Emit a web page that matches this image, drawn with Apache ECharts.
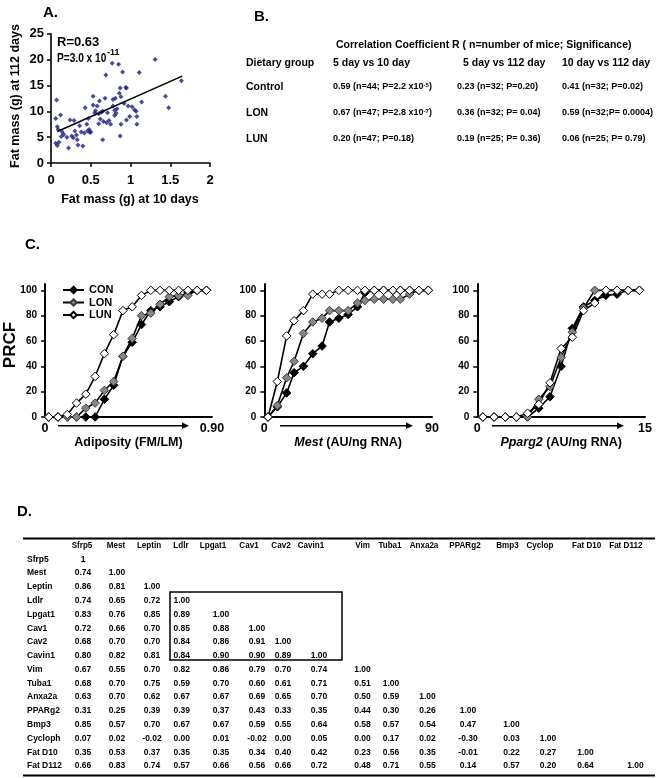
<!DOCTYPE html>
<html><head><meta charset="utf-8">
<script src="https://cdn.jsdelivr.net/npm/echarts@6/dist/echarts.min.js"></script>
<style>html,body{margin:0;padding:0;background:#fff}#c{width:662px;height:778px}</style>
</head><body><div id="c"></div>
<script>
// ---------- Panel A data: fat mass at 10 days vs 112 days ----------
const fatD10 = [0.07,0.06,0.08,0.09,0.06,0.08,0.10,0.12,0.13,0.14,0.16,0.20,0.22,0.24,0.26,0.28,0.29,0.30,0.32,0.33,0.34,0.36,0.38,0.40,0.42,0.43,0.45,0.46,0.47,0.48,0.49,0.50,
  0.53,0.53,0.55,0.56,0.58,0.60,0.60,0.61,0.62,0.63,0.65,0.65,0.66,0.68,0.69,0.70,0.71,0.73,0.75,0.77,0.78,0.78,0.80,0.80,0.81,0.82,0.83,0.85,0.86,0.87,0.87,0.88,0.88,0.90,0.92,0.94,0.95,0.95,0.97,0.99,
  1.02,1.05,1.07,1.08,1.08,1.11,1.14,1.31,1.44,1.48,1.64];
const fatD112 = [12.2,8.6,7.0,6.5,3.8,3.4,4.0,9.3,5.1,6.0,5.5,5.0,2.9,8.3,5.2,4.9,8.2,6.2,5.4,4.5,3.5,7.2,6.0,3.3,5.8,10.7,7.5,6.2,8.6,6.5,5.9,6.0,
  12.9,11.2,9.7,10.1,11.0,9.5,7.6,12.0,8.5,9.8,4.5,10.0,8.0,12.5,17.0,7.8,9.7,8.2,7.5,19.3,11.0,12.3,9.2,10.2,12.5,9.6,10.5,19.1,13.5,14.5,5.2,12.8,7.5,17.6,11.5,14.6,14.5,8.3,11.0,9.0,
  10.9,10.3,10.0,9.0,7.5,17.5,11.8,20.0,12.9,10.7,15.9];
const fitX = [0.08, 1.65];
const fitY = [6.1, 16.8];

// ---------- Panel B data ----------
const bGroups = ['Control', 'LON', 'LUN'];
const bCols = ['5 day vs 10 day', '5 day vs 112 day', '10 day vs 112 day'];
const bCells = [
  ['0.59 (n=44; P=2.2 x10|-5|)', '0.23 (n=32; P=0.20)', '0.41 (n=32; P=0.02)'],
  ['0.67 (n=47; P=2.8 x10|-7|)', '0.36 (n=32; P= 0.04)', '0.59 (n=32;P= 0.0004)'],
  ['0.20 (n=47; P=0.18)', '0.19 (n=25; P= 0.36)', '0.06 (n=25; P= 0.79)']
];

// ---------- Panel C data: PRCF curves ----------
const adipBins = [0.02,0.07,0.12,0.17,0.22,0.27,0.32,0.37,0.42,0.47,0.52,0.57,0.62,0.67,0.72,0.77,0.82,0.87];
const adipCON = [0,0,0,0,0,0,14,25,48,59,73,84,87,91,95,98,100,100];
const adipLON = [0,0,0,0,7,11,21,28,48,62,80,82,89,95,96,96,100,100];
const adipLUN = [0,0,2,11,18,32,50,65,84,87,96,100,100,100,100,100,100,100];

const mestBins = [2,7,12,16,21,26,31,35,40,45,50,54,59,64,69,73,78,83,88];
const mestCON = [0,8,19,35,40,50,56,75,78,81,87,98,100,100,100,100,100,100,100];
const mestLON = [0,9,31,44,66,75,78,84,84,84,90,92,93,93,93,93,97,100,100];
const mestLUN = [0,28,64,76,84,97,97,97,100,100,100,100,100,100,100,100,100,100,100];

const ppBins = [0.5,1.5,2.5,3.5,4.5,5.5,6.5,7.5,8.5,9.5,10.5,11.5,12.5,13.5,14.5];
const ppCON = [0,0,0,0,0,7,16,40,70,87,92,96,97,100,100];
const ppLON = [0,0,0,0,0,14,24,47,67,86,100,100,100,100,100];
const ppLUN = [0,0,0,0,3,10,27,54,63,84,90,100,100,100,100];
const prcfTicks = [0,20,40,60,80,100];

// ---------- Panel D data: correlation table ----------
const dCols = ['Sfrp5','Mest','Leptin','Ldlr','Lpgat1','Cav1','Cav2','Cavin1','Vim','Tuba1','Anxa2a','PPARg2','Bmp3','Cyclop','Fat D10','Fat D112'];
const dRows = ['Sfrp5','Mest','Leptin','Ldlr','Lpgat1','Cav1','Cav2','Cavin1','Vim','Tuba1','Anxa2a','PPARg2','Bmp3','Cycloph','Fat D10','Fat D112'];
const dVals = [
  ['1'],
  ['0.74','1.00'],
  ['0.86','0.81','1.00'],
  ['0.74','0.65','0.72','1.00'],
  ['0.83','0.76','0.85','0.89','1.00'],
  ['0.72','0.66','0.70','0.85','0.88','1.00'],
  ['0.68','0.70','0.70','0.84','0.86','0.91','1.00'],
  ['0.80','0.82','0.81','0.84','0.90','0.90','0.89','1.00'],
  ['0.67','0.55','0.70','0.82','0.86','0.79','0.70','0.74','1.00'],
  ['0.68','0.70','0.75','0.59','0.70','0.60','0.61','0.71','0.51','1.00'],
  ['0.63','0.70','0.62','0.67','0.67','0.69','0.65','0.70','0.50','0.59','1.00'],
  ['0.31','0.25','0.39','0.39','0.37','0.43','0.33','0.35','0.44','0.30','0.26','1.00'],
  ['0.85','0.57','0.70','0.67','0.67','0.59','0.55','0.64','0.58','0.57','0.54','0.47','1.00'],
  ['0.07','0.02','-0.02','0.00','0.01','-0.02','0.00','0.05','0.00','0.17','0.02','-0.30','0.03','1.00'],
  ['0.35','0.53','0.37','0.35','0.35','0.34','0.40','0.42','0.23','0.56','0.35','-0.01','0.22','0.27','1.00'],
  ['0.66','0.83','0.74','0.57','0.66','0.56','0.66','0.72','0.48','0.71','0.55','0.14','0.57','0.20','0.64','1.00']
];

// ---------- layout ----------
const FF = '"Liberation Sans", Arial, sans-serif';
function T(text, x, y, size, o) {
  o = o || {};
  return {type:'text', x:x, y:y, rotation:o.rot||0, scaleX:o.sx||1, silent:true, z:10,
    style:{text:text, fill:'#000', font:(o.w||'bold')+' '+size+'px '+FF,
      align:o.align||'left', verticalAlign:o.valign||'middle',
      textAlign:o.align||'left', textVerticalAlign:o.valign||'middle', rich:o.rich}};
}
function L(x1,y1,x2,y2,w){ return {type:'line', silent:true, shape:{x1,y1,x2,y2}, style:{stroke:'#000', lineWidth:w||1}}; }
function arrow(x1,x2,y){ return [L(x1,y,x2-5,y,1.6), {type:'polygon', silent:true, shape:{points:[[x2-7,y-3.2],[x2,y],[x2-7,y+3.2]]}, style:{fill:'#000'}}]; }

const graphics = [];
// Panel A annotations
graphics.push(T('A.', 43, 13, 15));
graphics.push(T('R=0.63', 57, 42, 13));
graphics.push(T('P=3.0 x 10', 57, 58, 13, {sx:0.78}));
graphics.push(T('-11', 107, 53, 9));
graphics.push(T('Fat mass (g) at 112 days', 16, 96, 12.5, {align:'center', rot:Math.PI/2}));
graphics.push(T('Fat mass (g) at 10 days', 130, 200, 12.5, {align:'center'}));
// Panel B
graphics.push(T('B.', 254, 17, 15));
graphics.push(T('Correlation Coefficient R ( n=number of mice; Significance)', 336, 45, 10.5));
const bColX = [333, 457, 562];
const bHeadX = [333, 463, 562];
const bRowY = [87, 113, 139];
graphics.push(T('Dietary group', 246, 63, 10.5));
bCols.forEach((c,i)=>graphics.push(T(c, bHeadX[i], 63, 10.5)));
bGroups.forEach((g,r)=>{
  graphics.push(T(g, 246, bRowY[r], 10.5));
  bCells[r].forEach((cell,c)=>{
    const parts = cell.split('|');
    let txt = '{v|' + parts[0] + '}';
    if (parts.length > 1) txt += '{s|' + parts[1] + '}{v|' + parts[2] + '}';
    graphics.push(T(txt, bColX[c], bRowY[r], 9, {rich:{
      v:{fontSize:9, fontWeight:'bold', fontFamily:FF, fill:'#000'},
      s:{fontSize:6, fontWeight:'bold', fontFamily:FF, fill:'#000', verticalAlign:'top', lineHeight:10}}}));
  });
});
// Panel C
graphics.push(T('C.', 25, 245, 15));
graphics.push(T('PRCF', 10, 345, 17, {align:'center', rot:Math.PI/2}));
graphics.push(...arrow(58, 189, 425.7));
graphics.push(...arrow(280, 413, 425.7));
graphics.push(...arrow(492, 624, 425.7));
// Panel D
graphics.push(T('D.', 17, 512, 15));
const dHeadX = [82,116,149,181,213,249,281,311,362.5,390,424,465,507.5,540,586.7,625.8];
const dValX = [83,117,152,181.7,221,257,283,319,362.5,391,427.5,468,511.5,548,585.5,635.5];
const dHeadY = 545.5, dRow0 = 559.3, dRowH = 13.78;
graphics.push(L(23, 538.5, 655, 538.5, 2));
graphics.push(L(23, 775.5, 655, 775.5, 2));
dCols.forEach((c,i)=>graphics.push(T(c, dHeadX[i], dHeadY, 8.5, {align:'center', sx:0.95})));
dRows.forEach((r,i)=>{
  const y = dRow0 + i*dRowH;
  graphics.push(T(r, 27, y, 8.5));
  dVals[i].forEach((v,j)=>graphics.push(T(v, dValX[j], y, 8.5, {align:'center'})));
});
graphics.push({type:'rect', silent:true, shape:{x:170, y:592, width:172, height:68}, style:{fill:'none', stroke:'#000', lineWidth:1.5}});

// ---------- chart ----------
const chart = echarts.init(document.getElementById('c'), null, {renderer:'canvas'});
const axisLineStyle = {lineStyle:{color:'#000', width:1.6}};
const lblBold = (s)=>({color:'#000', fontWeight:'bold', fontSize:s, fontFamily:FF});
function prcfY(gi){
  return {gridIndex:gi, type:'value', min:0, max:105,
    axisLine:{show:true, lineStyle:{color:'#000', width:2}},
    axisTick:{show:true, length:4, customValues:prcfTicks, lineStyle:{color:'#000', width:1.5}},
    axisLabel:{customValues:prcfTicks, margin:8, ...lblBold(10)},
    splitLine:{show:false}};
}
function prcfX(gi, max, endLabel, name, rich){
  return {gridIndex:gi, type:'value', min:0, max:max,
    axisLine:{show:true, onZero:false, lineStyle:{color:'#000', width:2}},
    axisTick:{show:false},
    axisLabel:{customValues:[0,max], margin:5, formatter:(v)=> v===0 ? '0' : endLabel, ...lblBold(12.5)},
    splitLine:{show:false},
    name:name, nameLocation:'middle', nameGap:16,
    nameTextStyle:{...lblBold(12.5), rich:rich}};
}
const italicRich = {i:{fontStyle:'italic', fontWeight:'bold', fontSize:12.5, fontFamily:FF, color:'#000'},
                    n:{fontWeight:'bold', fontSize:12.5, fontFamily:FF, color:'#000'}};
const styles = {
  CON:{itemStyle:{color:'#000', borderColor:'#000', borderWidth:1}},
  LON:{itemStyle:{color:'#868686', borderColor:'#3a3a3a', borderWidth:1}},
  LUN:{itemStyle:{color:'#fff', borderColor:'#000', borderWidth:1}}
};
function prcfSeries(name, gi, xs, ys){
  return {name:name, type:'line', xAxisIndex:gi, yAxisIndex:gi,
    data: xs.map((x,i)=>[x, ys[i]]), symbol:'diamond', symbolSize:8.5,
    lineStyle:{color:'#000', width:1.6}, itemStyle:styles[name].itemStyle,
    emphasis:{disabled:true}, z:3};
}
const option = {
  animation:false,
  backgroundColor:'#fff',
  textStyle:{fontFamily:FF},
  grid:[
    {left:51, top:33.7, width:159, height:129.3},
    {left:45, top:284, width:167, height:133},
    {left:264.3, top:284, width:167.7, height:133},
    {left:477.3, top:284, width:167.7, height:133}
  ],
  xAxis:[
    {gridIndex:0, type:'value', min:0, max:2, interval:0.5,
      axisLine:axisLineStyle, axisTick:{show:true, length:4, lineStyle:{color:'#000', width:1.5}},
      axisLabel:{margin:11, ...lblBold(13)}, splitLine:{show:false}},
    prcfX(1, 0.9, '0.90', 'Adiposity (FM/LM)'),
    prcfX(2, 90, '90', '{i|Mest}{n| (AU/ng RNA)}', italicRich),
    prcfX(3, 15, '15', '{i|Pparg2}{n| (AU/ng RNA)}', italicRich)
  ],
  yAxis:[
    {gridIndex:0, type:'value', min:0, max:25, interval:5,
      axisLine:axisLineStyle, axisTick:{show:true, length:4, lineStyle:{color:'#000', width:1.5}},
      axisLabel:{margin:7, ...lblBold(13)}, splitLine:{show:false}},
    prcfY(1), prcfY(2), prcfY(3)
  ],
  legend:{data:['CON','LON','LUN'], orient:'vertical', left:57, top:279.5, itemWidth:21, itemHeight:8, itemGap:1.5,
    textStyle:{...lblBold(11)}, selectedMode:false},
  series:[
    {type:'scatter', xAxisIndex:0, yAxisIndex:0, data:fatD10.map((x,i)=>[x, fatD112[i]]),
      symbol:'diamond', symbolSize:5, itemStyle:{color:'#1b1b86'}, emphasis:{disabled:true}},
    {type:'line', xAxisIndex:0, yAxisIndex:0, data:fitX.map((x,i)=>[x, fitY[i]]), symbol:'none',
      lineStyle:{color:'#000', width:1.6}, emphasis:{disabled:true}},
    prcfSeries('CON',1,adipBins,adipCON), prcfSeries('LON',1,adipBins,adipLON), prcfSeries('LUN',1,adipBins,adipLUN),
    prcfSeries('CON',2,mestBins,mestCON), prcfSeries('LON',2,mestBins,mestLON), prcfSeries('LUN',2,mestBins,mestLUN),
    prcfSeries('CON',3,ppBins,ppCON), prcfSeries('LON',3,ppBins,ppLON), prcfSeries('LUN',3,ppBins,ppLUN)
  ],
  graphic:{elements:graphics}
};
chart.setOption(option);
</script></body></html>
